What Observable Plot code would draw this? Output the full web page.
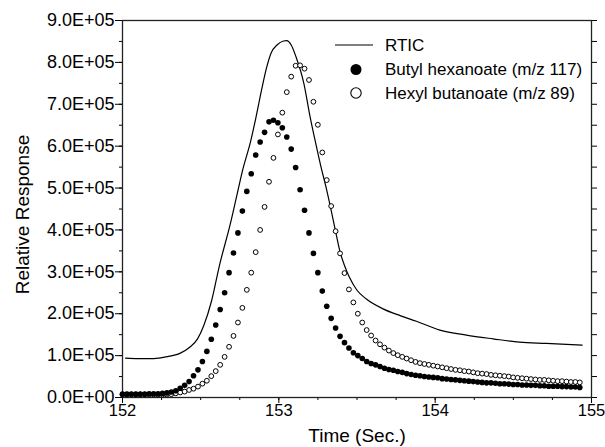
<!DOCTYPE html>
<html><head><meta charset="utf-8">
<script src="https://cdn.jsdelivr.net/npm/d3@7"></script>
<script src="https://cdn.jsdelivr.net/npm/@observablehq/plot@0.6"></script>
<style>body{margin:0;background:#fff} #chart{width:605px;height:447px}</style>
</head><body><div id="chart"></div>
<script>
// Regular scan times: start and interval (sec)
const scanStart = 152.0;
const scanStep = 0.0284;

// Butyl hexanoate (m/z 117), filled circles, values in units of 1E+05
const butylHexanoate = [
  0.08,0.08,0.08,0.08,0.08,0.08,0.09,0.09,0.09,0.10,
  0.11,0.13,0.16,0.22,0.29,0.38,0.52,0.66,0.86,1.10,
  1.39,1.73,2.10,2.50,2.98,3.45,3.93,4.45,4.92,5.34,
  5.79,6.10,6.33,6.58,6.62,6.56,6.44,6.22,5.93,5.49,
  4.96,4.47,3.93,3.44,2.98,2.54,2.18,1.89,1.66,1.46,
  1.31,1.18,1.07,1.00,0.93,0.86,0.81,0.78,0.74,0.70,
  0.67,0.65,0.62,0.60,0.57,0.55,0.53,0.52,0.50,0.49,
  0.48,0.47,0.45,0.44,0.43,0.42,0.41,0.40,0.39,0.38,
  0.37,0.36,0.35,0.35,0.34,0.33,0.33,0.32,0.31,0.31,
  0.30,0.30,0.29,0.29,0.28,0.28,0.27,0.27,0.27,0.26,
  0.26,0.25,0.25,0.24
];

// Hexyl butanoate (m/z 89), open circles, values in units of 1E+05
const hexylButanoate = [
  0.07,0.07,0.07,0.07,0.07,0.07,0.07,0.07,0.07,0.07,
  0.07,0.08,0.10,0.12,0.14,0.18,0.21,0.26,0.33,0.40,
  0.51,0.63,0.78,0.97,1.21,1.47,1.79,2.14,2.57,2.98,
  3.47,4.00,4.55,5.15,5.72,6.28,6.80,7.29,7.66,7.92,
  7.93,7.85,7.58,7.06,6.51,5.85,5.19,4.57,3.97,3.44,
  2.97,2.58,2.27,2.00,1.79,1.61,1.48,1.36,1.27,1.19,
  1.12,1.06,1.01,0.97,0.93,0.89,0.85,0.82,0.80,0.78,
  0.76,0.74,0.72,0.70,0.68,0.66,0.65,0.63,0.62,0.60,
  0.58,0.57,0.56,0.54,0.53,0.52,0.51,0.50,0.48,0.47,
  0.46,0.45,0.44,0.43,0.42,0.42,0.41,0.40,0.39,0.39,
  0.38,0.37,0.37,0.36
];

// RTIC trace (time in sec, value in units of 1E+05)
const rticTime = [
  152.02,152.10,152.20,152.28,152.37,152.43,152.48,152.52,152.57,152.62,
  152.69,152.73,152.77,152.82,152.85,152.89,152.92,152.95,152.99,153.03,
  153.05,153.08,153.11,153.16,153.20,153.24,153.27,153.30,153.33,153.36,
  153.39,153.42,153.45,153.50,153.56,153.67,153.78,153.88,154.03,154.20,
  154.37,154.54,154.71,154.94
];
const rticValue = [
  0.94,0.93,0.93,0.97,1.06,1.20,1.40,1.72,2.31,3.15,
  4.15,4.80,5.45,6.12,6.62,7.35,7.85,8.22,8.42,8.51,
  8.52,8.41,8.13,7.50,6.70,6.00,5.50,5.05,4.55,4.02,
  3.50,3.15,2.88,2.56,2.35,2.11,1.95,1.82,1.61,1.49,
  1.40,1.32,1.29,1.25
];

const seriesNames = ["RTIC", "Butyl hexanoate (m/z 117)", "Hexyl butanoate (m/z 89)"];
const xTickValues = [152, 153, 154, 155];
const xMinorTicks = [152, 152.25, 152.5, 152.75, 153, 153.25, 153.5, 153.75, 154, 154.25, 154.5, 154.75, 155];
const yTickValues = [0, 1e5, 2e5, 3e5, 4e5, 5e5, 6e5, 7e5, 8e5, 9e5];
const yTickLabels = ["0.0E+00","1.0E+05","2.0E+05","3.0E+05","4.0E+05","5.0E+05","6.0E+05","7.0E+05","8.0E+05","9.0E+05"];
const yMinorTicks = [0,0.5e5,1e5,1.5e5,2e5,2.5e5,3e5,3.5e5,4e5,4.5e5,5e5,5.5e5,6e5,6.5e5,7e5,7.5e5,8e5,8.5e5,9e5];
const xTitle = "Time (Sec.)";
const yTitle = "Relative Response";

const butData = butylHexanoate.map((v, i) => ({t: scanStart + i * scanStep, v: v * 1e5}));
const hexData = hexylButanoate.map((v, i) => ({t: scanStart + i * scanStep, v: v * 1e5}));
const rticData = rticTime.map((t, i) => ({t, v: rticValue[i] * 1e5}));

const font = "'Liberation Sans', Arial, Helvetica, sans-serif";

const plot = Plot.plot({
  width: 605, height: 447,
  marginLeft: 122, marginRight: 14, marginTop: 20, marginBottom: 50,
  style: {fontFamily: font, fontSize: "16px", background: "white", color: "black"},
  x: {domain: [152, 155], label: null},
  y: {domain: [0, 9e5], label: null},
  marks: [
    Plot.axisX({ticks: xMinorTicks, tickSize: 3, fill: "none", label: null}),
    Plot.axisX({ticks: xTickValues, tickSize: 6, tickPadding: 1, tickFormat: d => String(d), label: null, fontSize: 16.5}),
    Plot.axisY({ticks: yMinorTicks, tickSize: 3, fill: "none", label: null}),
    Plot.axisY({ticks: yTickValues, tickSize: 7, tickPadding: 1, tickFormat: d => yTickLabels[yTickValues.indexOf(d)], label: null, fontSize: 18}),
    Plot.axisY({anchor: "right", ticks: yMinorTicks, tickSize: 5, fill: "none", label: null}),
    Plot.frame({stroke: "#222", strokeWidth: 1.3}),
    Plot.line(rticData, {x: "t", y: "v", curve: "monotone-x", stroke: "black", strokeWidth: 1.2}),
    Plot.dot(hexData, {x: "t", y: "v", r: 2.4, fill: "white", stroke: "black", strokeWidth: 1}),
    Plot.dot(butData, {x: "t", y: "v", r: 2.8, fill: "black", stroke: "none"}),
    Plot.text([xTitle], {frameAnchor: "bottom", lineAnchor: "middle", textAnchor: "middle", dy: 38, fontSize: 19}),
    Plot.text([yTitle], {frameAnchor: "left", lineAnchor: "middle", textAnchor: "middle", rotate: -90, dx: -100, dy: 5.5, fontSize: 19})
  ]
});

document.getElementById("chart").appendChild(plot);

// Legend inside the plot area
const svg = d3.select(plot);
const lg = svg.append("g").attr("font-family", font).attr("font-size", 17)
  .attr("fill", "black").attr("text-anchor", "start");
lg.append("line").attr("x1", 335).attr("x2", 373).attr("y1", 45).attr("y2", 45)
  .attr("stroke", "black").attr("stroke-width", 1.2);
lg.append("circle").attr("cx", 356).attr("cy", 69.5).attr("r", 5.5).attr("fill", "black");
lg.append("circle").attr("cx", 356).attr("cy", 93).attr("r", 5.2).attr("fill", "white")
  .attr("stroke", "black").attr("stroke-width", 1.1);
[45, 69.5, 93].forEach((y, i) => {
  lg.append("text").attr("x", 385).attr("y", y).attr("dy", "0.35em").text(seriesNames[i]);
});
</script>
</body></html>
